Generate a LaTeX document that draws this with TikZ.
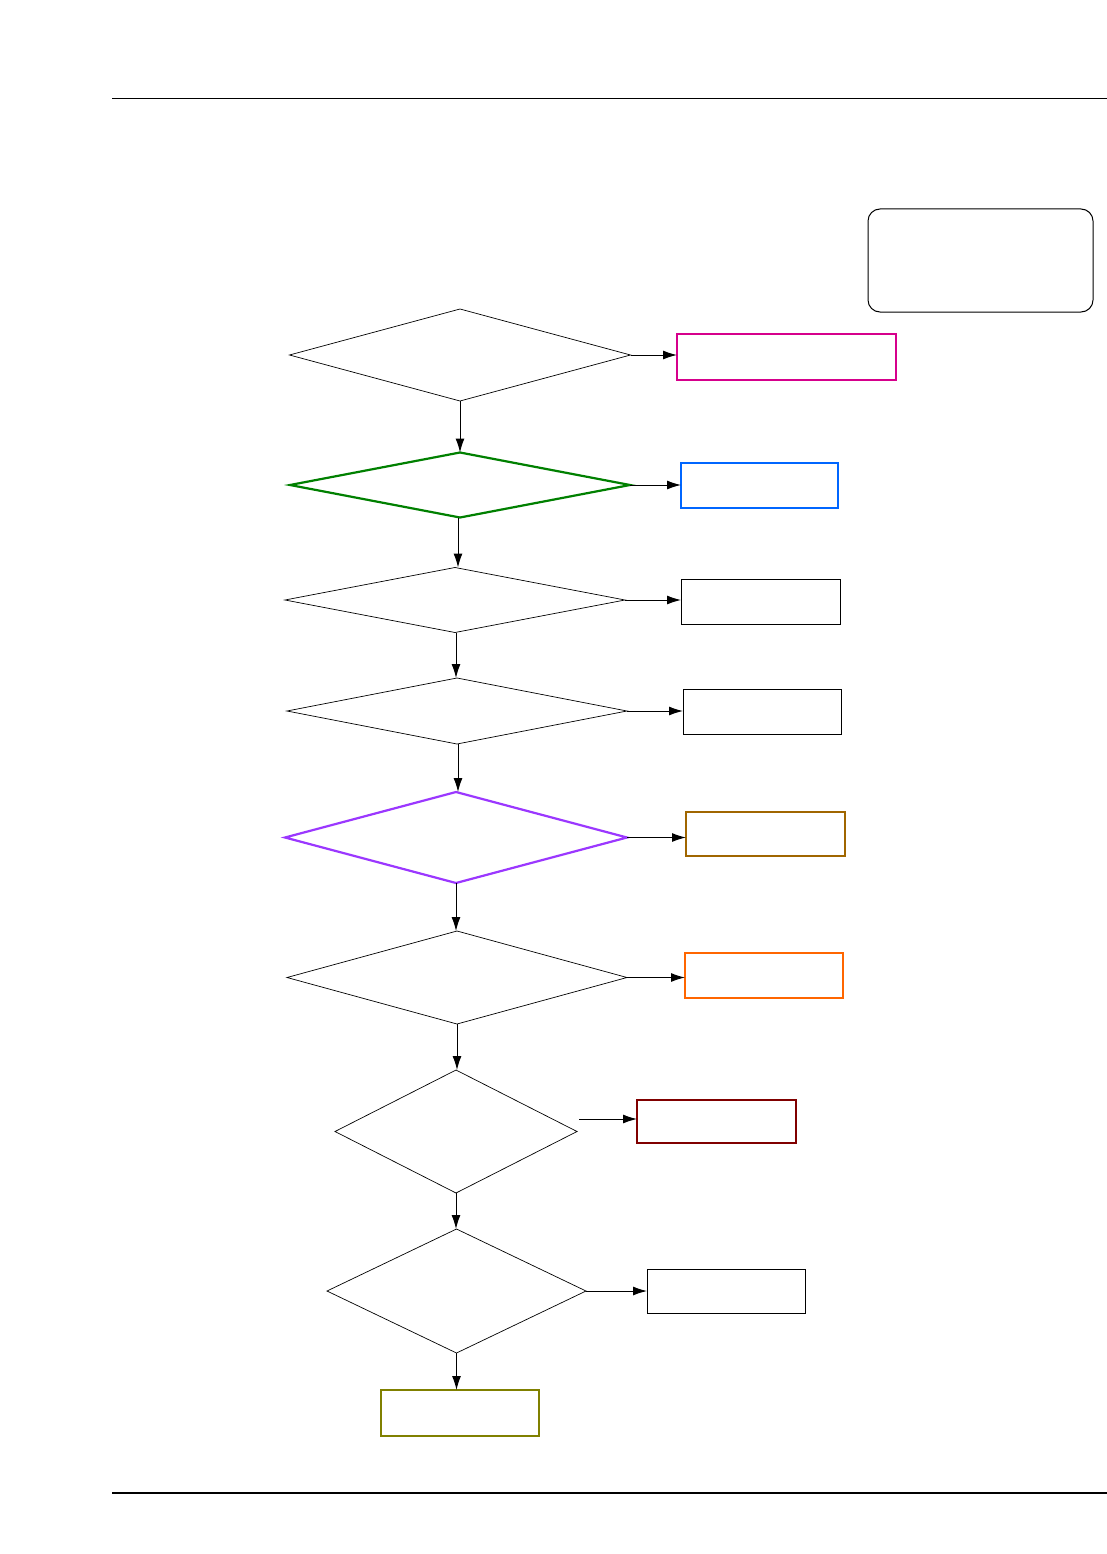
\documentclass[tikz,border=0pt]{standalone}
\usetikzlibrary{arrows.meta,positioning,shapes.geometric}
\definecolor{askmagenta}{RGB}{214,0,140}
\definecolor{askgreen}{RGB}{0,128,0}
\definecolor{askblue}{RGB}{0,102,255}
\definecolor{askpurple}{RGB}{155,55,255}
\definecolor{askbrown}{RGB}{160,102,0}
\definecolor{askorange}{RGB}{255,102,0}
\definecolor{askdarkred}{RGB}{128,0,0}
\definecolor{askolive}{RGB}{128,128,0}

\begin{document}
\begin{tikzpicture}[x=1pt,y=-1pt,
  >={Latex[length=14pt,width=9pt]},
  decision/.style={diamond,draw,line width=0.7pt,inner sep=0pt,outer sep=0pt},
  result/.style={draw,line width=1pt,minimum width=158pt,minimum height=45pt,
    inner sep=0pt,outer sep=0pt},
  marked/.style={result,line width=2.2pt,draw=#1},
  flow/.style={->,line width=1pt}]
  \useasboundingbox[fill=white] (0,0) rectangle (1107,1554);
  \draw[line width=1pt] (112,99) -- (1107,99);
  \draw[line width=1.2pt] (112,1493) -- (1107,1493);

  \node[draw,line width=1pt,rounded corners=12pt,minimum width=225pt,
    minimum height=103pt] (legend) at (980.5,260.5) {};

  \node[decision,minimum width=341pt,minimum height=92pt] (q1) at (460,355) {};
  \node[decision,draw=askgreen,line width=2.2pt,minimum width=340pt,
    minimum height=65pt] (q2) at (460,485) {};
  \node[decision,minimum width=340pt,minimum height=65pt] (q3) at (455,600) {};
  \node[decision,minimum width=340pt,minimum height=66pt] (q4) at (457,711) {};
  \node[decision,draw=askpurple,line width=2.2pt,minimum width=342pt,
    minimum height=91pt] (q5) at (456,837.5) {};
  \node[decision,minimum width=340pt,minimum height=93pt] (q6) at (457,977.5) {};
  \node[decision,minimum width=242pt,minimum height=123pt] (q7) at (456,1131.5) {};
  \node[decision,minimum width=259pt,minimum height=124pt] (q8) at (456.5,1291) {};

  \node[marked=askmagenta,minimum width=219pt,minimum height=46pt] (r1)
    at (786.5,357) {};
  \node[marked=askblue,minimum width=157pt] (r2) at (759.5,485.5) {};
  \node[result,minimum width=159pt] (r3) at (760.5,601.5) {};
  \node[result] (r4) at (762,711.5) {};
  \node[marked=askbrown,minimum width=159pt,minimum height=44pt] (r5)
    at (765.5,834) {};
  \node[marked=askorange] (r6) at (764,975.5) {};
  \node[marked=askdarkred,minimum width=159pt,minimum height=43pt] (r7)
    at (716.5,1121.5) {};
  \node[result,minimum height=44pt] (r8) at (726,1291) {};
  \node[marked=askolive,minimum height=46pt] (r9) at (460,1413) {};

  \coordinate (q7out) at (579,1119);

  \draw[flow] (q1.east) -- (q1.east -| r1.west);
  \draw[flow] (q2.east) -- (q2.east -| r2.west);
  \draw[flow] (q3.east) -- (q3.east -| r3.west);
  \draw[flow] (q4.east) -- (q4.east -| r4.west);
  \draw[flow] (q5.east) -- (q5.east -| r5.west);
  \draw[flow] (q6.east) -- (q6.east -| r6.west);
  \draw[flow] (q7out) -- (q7out -| r7.west);
  \draw[flow] (q8.east) -- (q8.east -| r8.west);

  \draw[flow] (q1.south) -- (q1.south |- q2.north);
  \draw[flow] ([xshift=-2pt]q2.south) -- ([xshift=-2pt]q2.south |- q3.north);
  \draw[flow] ([xshift=1pt]q3.south) -- ([xshift=1pt]q3.south |- q4.north);
  \draw[flow] ([xshift=1pt]q4.south) -- ([xshift=1pt]q4.south |- q5.north);
  \draw[flow] (q5.south) -- (q5.south |- q6.north);
  \draw[flow] (q6.south) -- (q6.south |- q7.north);
  \draw[flow] (q7.south) -- (q7.south |- q8.north);
  \draw[flow] (q8.south) -- (q8.south |- r9.north);
\end{tikzpicture}
\end{document}
